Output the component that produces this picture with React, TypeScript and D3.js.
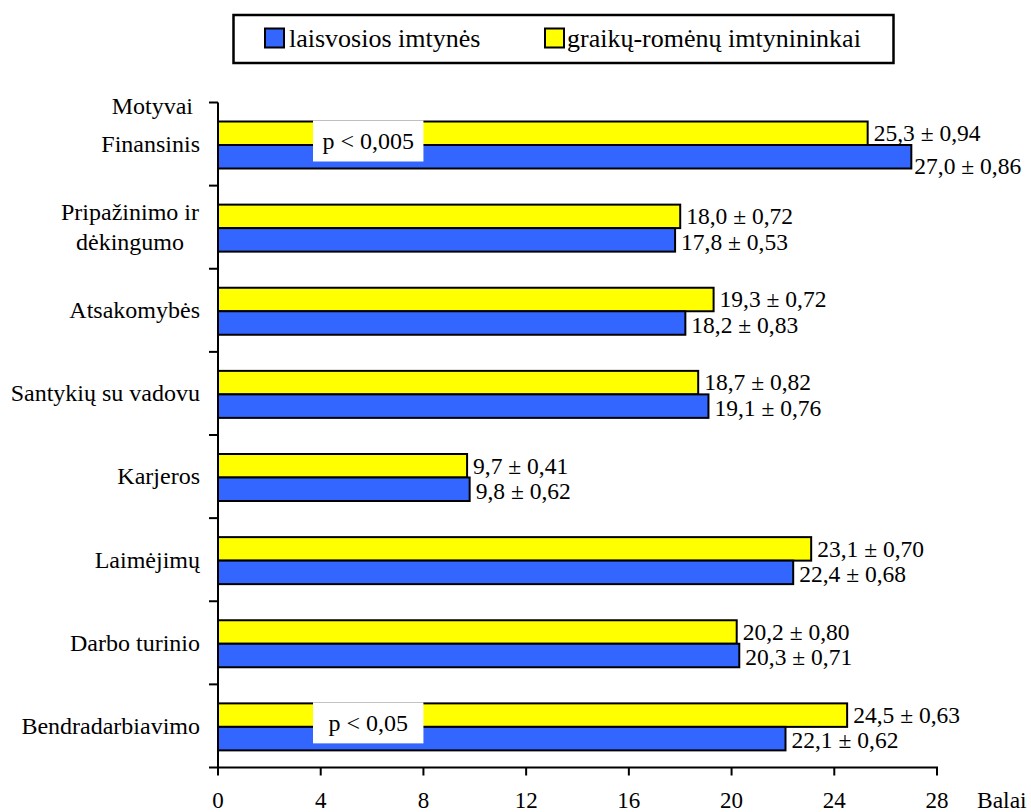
import React from 'react';
import * as d3 from 'd3';

const categories = ['Finansinis', 'Pripažinimo ir dėkingumo', 'Atsakomybės', 'Santykių su vadovu', 'Karjeros', 'Laimėjimų', 'Darbo turinio', 'Bendradarbiavimo'];
const categoryLines = [['Finansinis'], ['Pripažinimo ir', 'dėkingumo'], ['Atsakomybės'], ['Santykių su vadovu'], ['Karjeros'], ['Laimėjimų'], ['Darbo turinio'], ['Bendradarbiavimo']];
const grecoValues = [25.3, 18.0, 19.3, 18.7, 9.7, 23.1, 20.2, 24.5];
const grecoErrors = [0.94, 0.72, 0.72, 0.82, 0.41, 0.70, 0.80, 0.63];
const freeValues = [27.0, 17.8, 18.2, 19.1, 9.8, 22.4, 20.3, 22.1];
const freeErrors = [0.86, 0.53, 0.83, 0.76, 0.62, 0.68, 0.71, 0.62];
const xTicks = [0, 4, 8, 12, 16, 20, 24, 28];
const seriesNames = ['laisvosios imtynės', 'graikų-romėnų imtynininkai'];
const pCategories = ['Finansinis', 'Bendradarbiavimo'];
const pTexts = ['p < 0,005', 'p < 0,05'];

const FONT = 'Liberation Serif';
const BLUE = '#3366FF';
const YELLOW = '#FFFF00';

const fmt = (v: number, e: number) => `${v.toFixed(1).replace('.', ',')} ± ${e.toFixed(2).replace('.', ',')}`;

const T = (props: any) => <text fontFamily={FONT} style={{ fontFamily: FONT }} {...props} />;

export default function App() {
  const W = 1031, H = 812;
  const x = d3.scaleLinear().domain([0, 28]).range([218, 937]);
  const y = d3.scaleBand<string>().domain(categories).range([102.5, 767.5]).padding(0);
  const inner = d3.scaleBand<string>().domain(['greco', 'free']).range([19, 66]).padding(0);
  const bw = inner.bandwidth();
  const x0 = x(0);
  const yBottom = 767.5;
  const bandEdges = categories.map((c) => y(c) as number).concat([yBottom]);

  return (
    <svg width={W} height={H} style={{ position: 'absolute', left: 0, top: 0, background: '#fff' }}>
      <rect x={0} y={0} width={W} height={H} fill="#fff" />
      {/* Legend */}
      <rect x={233.5} y={15} width={660} height={48} fill="#fff" stroke="#000" strokeWidth={2.5} />
      <rect x={265} y={28.5} width={19} height={19} fill={BLUE} stroke="#000" strokeWidth={2} />
      <T x={289} y={46.5} fontSize={26}>{seriesNames[0]}</T>
      <rect x={545} y={28.5} width={19} height={19} fill={YELLOW} stroke="#000" strokeWidth={2} />
      <T x={567} y={46.5} fontSize={26}>{seriesNames[1]}</T>

      {/* Bars */}
      {categories.map((c, i) => {
        const by = y(c) as number;
        const yg = by + (inner('greco') as number);
        const yf = by + (inner('free') as number);
        return (
          <g key={c}>
            <rect x={x0} y={yg} width={x(grecoValues[i]) - x0} height={bw} fill={YELLOW} stroke="#000" strokeWidth={2} />
            <rect x={x0} y={yf} width={x(freeValues[i]) - x0} height={bw} fill={BLUE} stroke="#000" strokeWidth={2} />
            <T x={x(grecoValues[i]) + 6} y={yg + bw / 2} dy="0.33em" fontSize={23.5}>{fmt(grecoValues[i], grecoErrors[i])}</T>
            <T x={x(freeValues[i]) + (i === 0 ? 3 : 6)} y={yf + bw / 2 + (i === 0 ? 9 : 2)} dy="0.33em" fontSize={23.5}>{fmt(freeValues[i], freeErrors[i])}</T>
          </g>
        );
      })}

      {/* p annotations */}
      {pCategories.map((c, k) => {
        const by = (y(c) as number) + (inner('greco') as number);
        return (
          <g key={c}>
            <rect x={x(3.7)} y={by - 1} width={x(8) - x(3.7)} height={41} fill="#fff" />
            <T x={(x(3.7) + x(8)) / 2} y={by + 20} dy="0.33em" fontSize={24} textAnchor="middle">{pTexts[k]}</T>
          </g>
        );
      })}

      {/* Y axis */}
      <line x1={x0} x2={x0} y1={102.5} y2={yBottom + 1} stroke="#000" strokeWidth={2} />
      {bandEdges.map((e, i) => (
        <line key={i} x1={209} x2={x0} y1={e} y2={e} stroke="#000" strokeWidth={2} />
      ))}
      {/* X axis */}
      <line x1={x0 - 1} x2={x(28) + 1} y1={yBottom} y2={yBottom} stroke="#000" strokeWidth={2} />
      {xTicks.map((t) => (
        <g key={t}>
          <line x1={x(t)} x2={x(t)} y1={yBottom} y2={yBottom + 8} stroke="#000" strokeWidth={2} />
          <T x={x(t)} y={808} fontSize={23} textAnchor="middle">{t}</T>
        </g>
      ))}
      <T x={977} y={808} fontSize={23.5}>Balai</T>

      {/* Category labels */}
      <T x={193} y={106} dy="0.33em" fontSize={24} textAnchor="end">Motyvai</T>
      {categories.map((c, i) => {
        const cy = (y(c) as number) + y.bandwidth() / 2;
        const lines = categoryLines[i];
        if (lines.length === 1) {
          return <T key={c} x={200} y={cy} dy="0.33em" fontSize={24} textAnchor="end">{lines[0]}</T>;
        }
        return (
          <T key={c} x={130} fontSize={24} textAnchor="middle">
            {lines.map((l, j) => (
              <tspan key={j} x={130} y={cy + (j - (lines.length - 1) / 2) * 30} dy="0.33em">{l}</tspan>
            ))}
          </T>
        );
      })}
    </svg>
  );
}
